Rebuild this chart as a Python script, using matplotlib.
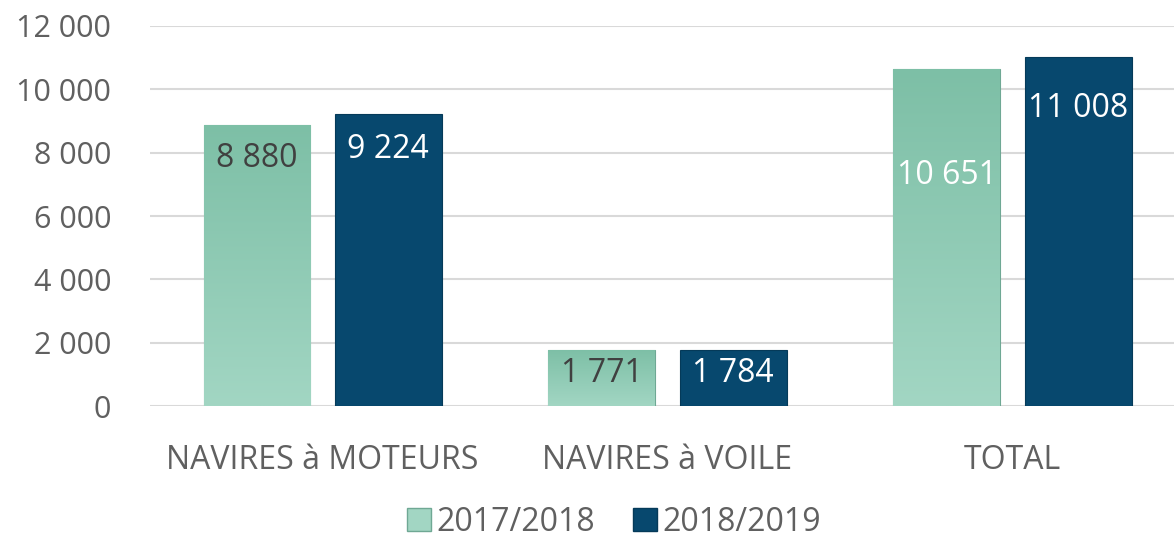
import matplotlib
matplotlib.use("Agg")
import matplotlib.pyplot as plt
import numpy as np
from matplotlib.colors import LinearSegmentedColormap
from matplotlib.patches import Patch

categories = ["NAVIRES à MOTEURS", "NAVIRES à VOILE", "TOTAL"]
seasons = ["2017/2018", "2018/2019"]
values_1718 = [8880, 1771, 10651]
values_1819 = [9224, 1784, 11008]
labels_1718 = ["8 880", "1 771", "10 651"]
labels_1819 = ["9 224", "1 784", "11 008"]
yticks = [0, 2000, 4000, 6000, 8000, 10000, 12000]
ytick_labels = ["0", "2 000", "4 000", "6 000", "8 000", "10 000", "12 000"]

# label offsets below bar top (data units), as placed in the original
label_drop_1718 = [1050, 730, 3360]
label_drop_1819 = [1140, 740, 1600]
label_color_1718 = ["#404040", "#404040", "white"]
label_color_1819 = ["white", "white", "white"]

GREEN_TOP = "#7dbfa6"
GREEN_BOT = "#a2d6c3"
BLUE = "#07486e"
TEXT = "#606060"

plt.rcParams["font.family"] = ["Open Sans", "DejaVu Sans"]

fig = plt.figure(figsize=(11.74, 5.40), dpi=100)
ax = fig.add_axes([0.1278, 0.248, 0.8722, 0.704])

x = np.arange(len(categories))
w = 0.31
off = 0.19

green_cmap = LinearSegmentedColormap.from_list("g", [GREEN_BOT, GREEN_TOP])
grad = np.linspace(0, 1, 256).reshape(-1, 1)

bars_a = ax.bar(x - off, values_1718, w, color=GREEN_TOP, edgecolor="#6fa894",
                linewidth=0.8, zorder=2)
bars_b = ax.bar(x + off, values_1819, w, color=BLUE, edgecolor="#053a59",
                linewidth=0.8, zorder=2)

# vertical gradient on green bars
for b in bars_a:
    x0, y0 = b.get_x(), b.get_y()
    im = ax.imshow(grad, cmap=green_cmap, origin="lower", aspect="auto",
                   extent=[x0, x0 + b.get_width(), y0, y0 + b.get_height()],
                   zorder=2.5)
    im.set_clip_path(b)

for i in range(len(categories)):
    ax.text(x[i] - off, values_1718[i] - label_drop_1718[i], labels_1718[i],
            ha="center", va="center", fontsize=23, color=label_color_1718[i], zorder=4)
    ax.text(x[i] + off, values_1819[i] - label_drop_1819[i], labels_1819[i],
            ha="center", va="center", fontsize=23, color=label_color_1819[i], zorder=4)

ax.set_xlim(-0.5, -0.5 + 1024 / 345)
ax.set_ylim(0, 12000)
ax.set_yticks(yticks)
ax.set_yticklabels(ytick_labels)
ax.set_xticks(x)
ax.set_xticklabels(categories)
ax.tick_params(axis="both", length=0, colors=TEXT)
ax.tick_params(axis="y", labelsize=22, pad=28)
ax.tick_params(axis="x", labelsize=23, pad=27)
ax.grid(True, axis="y", color="#d9d9d9", linewidth=1.5, zorder=0)
ax.set_axisbelow(True)
for s in ax.spines.values():
    s.set_visible(False)

handles = [Patch(facecolor=GREEN_BOT, edgecolor="#6fa894", label=seasons[0]),
           Patch(facecolor=BLUE, edgecolor="#053a59", label=seasons[1])]
fig.legend(handles=handles, loc="center", bbox_to_anchor=(0.523, 0.033), ncol=2,
           frameon=False, fontsize=23, labelcolor=TEXT, handlelength=0.75,
           handleheight=0.75, handletextpad=0.15, columnspacing=1.2)

fig.savefig("out.png", dpi=100)
